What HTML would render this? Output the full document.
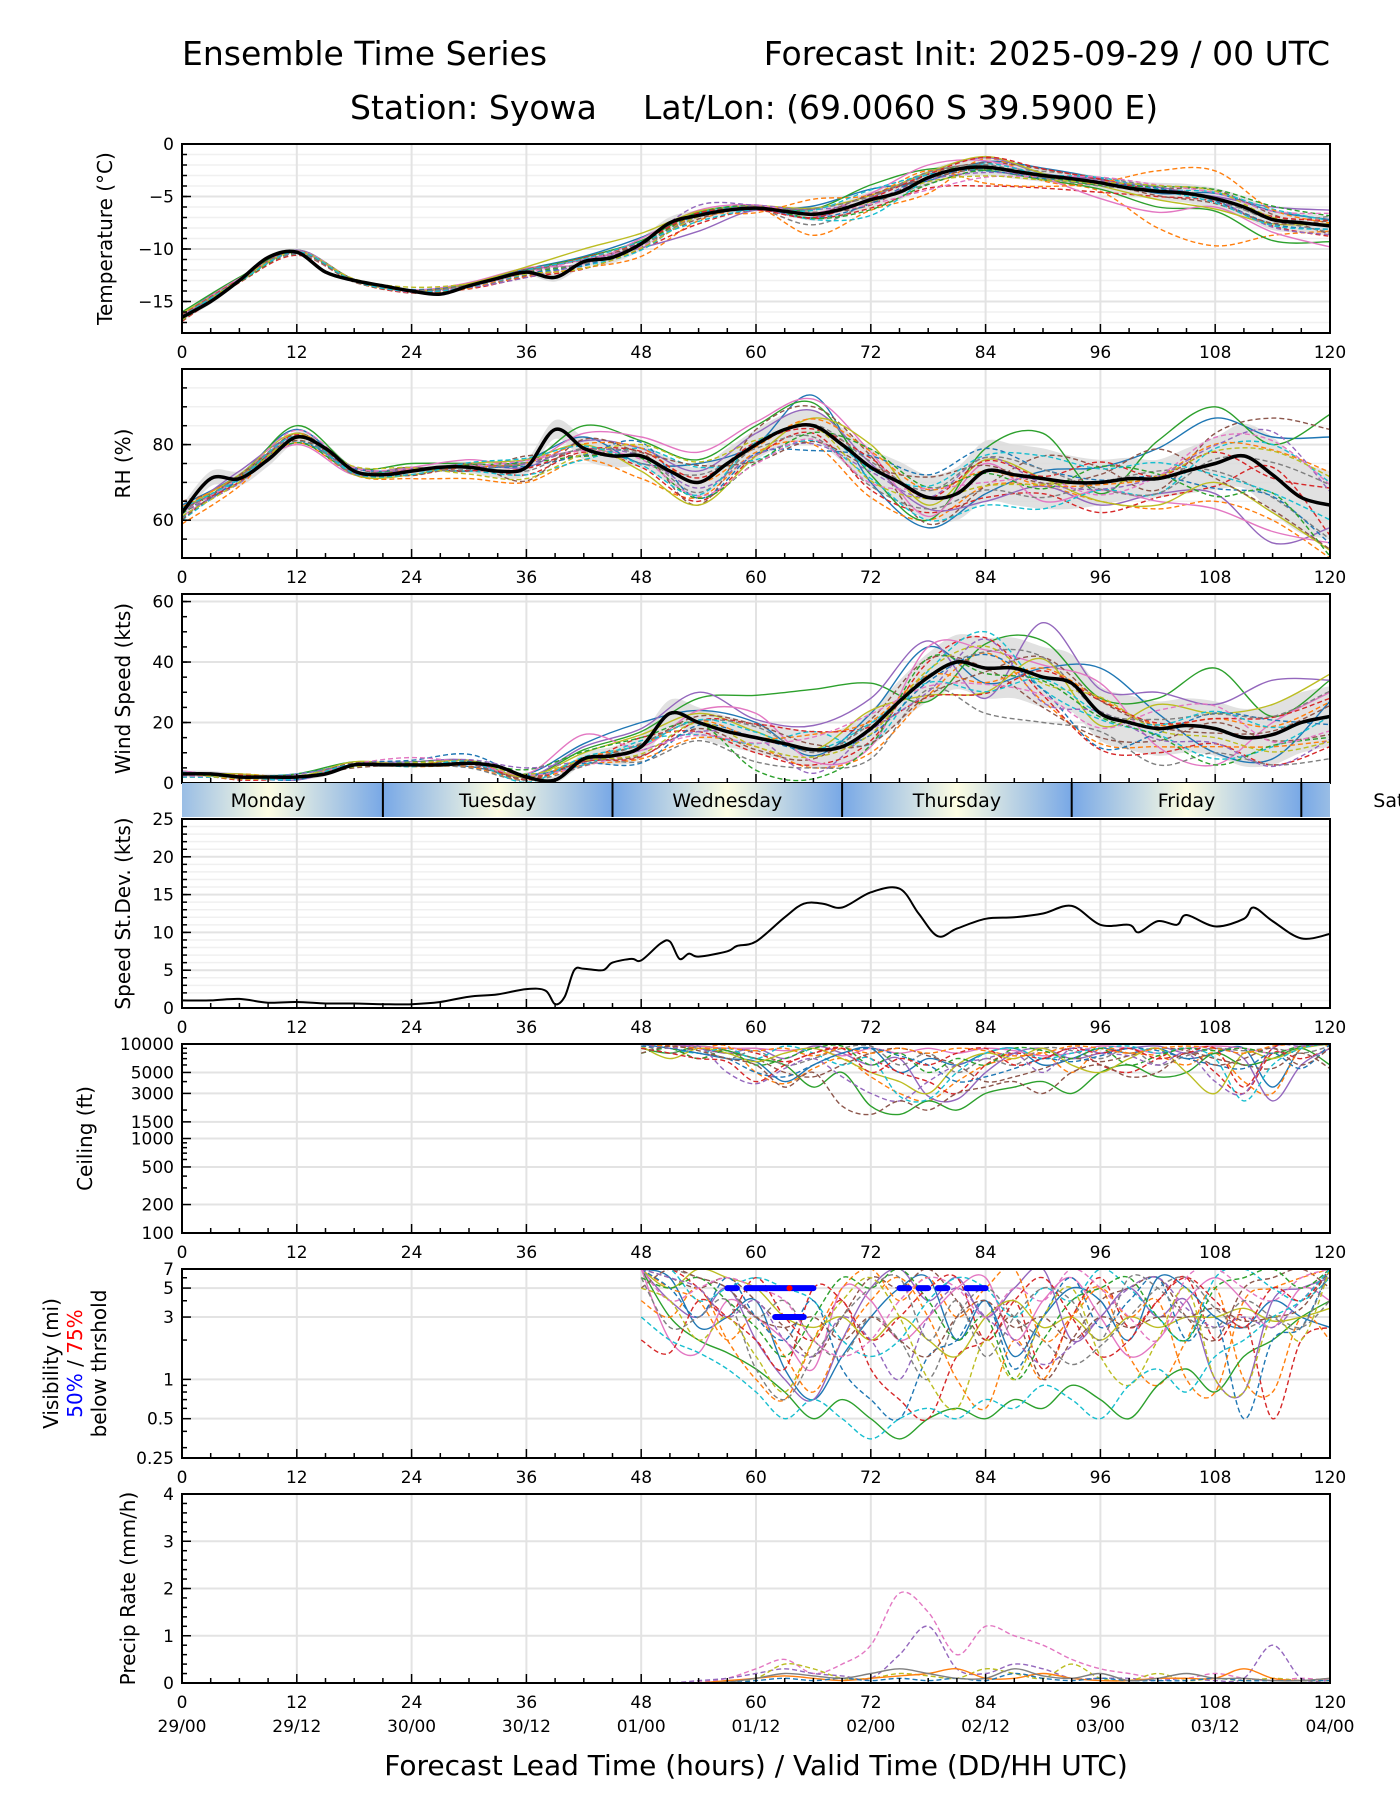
<!DOCTYPE html>
<html><head><meta charset="utf-8"><style>
html,body{margin:0;padding:0;background:#fff;}
svg{display:block;font-family:"DejaVu Sans","Liberation Sans",sans-serif;}
</style></head><body>
<svg id="chart" width="1400" height="1800" viewBox="0 0 1400 1800" xmlns="http://www.w3.org/2000/svg">
<defs>
<linearGradient id="dayGrad" x1="0" x2="1" y1="0" y2="0">
<stop offset="0" stop-color="#78a8e6"/><stop offset="0.5" stop-color="#fdfde2"/><stop offset="1" stop-color="#78a8e6"/>
</linearGradient>
</defs>
<text x="182" y="65" font-size="33">Ensemble Time Series</text>
<text x="1330" y="65" font-size="33" text-anchor="end">Forecast Init: 2025-09-29 / 00 UTC</text>
<text x="350" y="119" font-size="33">Station: Syowa</text>
<text x="643" y="119" font-size="33">Lat/Lon: (69.0060 S 39.5900 E)</text>
<text x="756" y="1775" font-size="28" text-anchor="middle">Forecast Lead Time (hours) / Valid Time (DD/HH UTC)</text>
</svg>
<script>
// ---- data ----
const hours6 = [0,6,12,18,24,30,36,42,48,54,60,66,72,78,84,90,96,102,108,114,120];
const hours3 = [0,3,6,9,12,15,18,21,24,27,30,33,36,39,42,45,48,51,54,57,60,63,66,69,72,75,78,81,84,87,90,93,96,99,102,105,108,111,114,117,120];
const hoursLate = [48,51,54,57,60,63,66,69,72,75,78,81,84,87,90,93,96,99,102,105,108,111,114,117,120];
const tempMean = [-16.5,-15,-13,-10.8,-10.3,-12.2,-13,-13.5,-14,-14.3,-13.5,-12.8,-12.2,-12.7,-11.2,-10.8,-9.5,-7.5,-6.8,-6.3,-6.1,-6.4,-6.7,-6.2,-5.3,-4.6,-3.2,-2.4,-2.2,-2.6,-3.0,-3.3,-3.7,-4.2,-4.5,-4.7,-5.2,-6,-7.2,-7.5,-7.8];
const tempSpread = [0.3,0.2,0.2,0.1,0.1,0.2,0.3,0.5,0.6,0.5,0.2,0.6,0.8,0.7,0.8,0.6,0.6,0.8,1.0,1.0,0.9];
const tempDev = [
[0.3,0.2,0.1,0.1,0,0.2,0.3,0.5,0.6,0.2,-0.2,0.8,1.0,-0.3,0.5,0.7,0.4,-0.2,0.5,0.8,0.6],
[-0.2,0.1,-0.1,0,-0.1,-0.2,-0.4,-0.6,-1.2,-0.5,0,-2.0,-1.0,-1.5,0.8,-0.5,-0.8,-3.5,-4.5,-1.5,-0.5],
[0.5,0.3,0.2,0.1,0.1,0.1,0.2,0.4,0.3,0.3,0.1,0.5,1.4,0.8,-0.3,-0.4,-0.6,-1.5,-1.2,-2.0,-1.5],
[-0.4,-0.2,-0.3,-0.1,-0.1,-0.3,-0.5,-0.7,-0.5,-0.8,-0.2,-0.4,-0.8,-1.0,-1.8,-1.2,-0.9,-0.5,-0.3,-0.6,-1.0],
[0.1,0,0.2,0,0,0.1,0.1,0.2,-0.4,-1.5,-0.2,-0.3,0.2,0.5,0.9,0.2,0.3,0.1,0.2,1.2,1.5],
[0,-0.1,0,0.1,-0.2,0,-0.3,-0.2,0.2,0.3,0.1,0.2,-0.5,0.3,0.4,0.6,0.3,0.3,0.8,0.5,-0.8],
[0.2,0.2,0,0,0.1,0.3,0.4,-0.2,0.5,0.5,0.3,0.1,0.6,1.2,0.6,-0.2,-1.5,-2.0,-0.8,-1.2,-2.0],
[-0.3,0,-0.2,-0.1,0.1,-0.2,-0.2,0.3,-0.3,0,-0.1,-1.0,-0.3,-0.6,-0.2,0.4,0.5,0.4,0.1,0,0.9],
[0.4,-0.1,0.1,0,0,0.2,0.5,1.2,1.0,0.4,0.2,0.6,0.4,0.5,1.0,0.2,-0.3,-0.8,-1.0,-0.4,0.2],
[-0.1,0.1,-0.1,0,-0.1,-0.1,-0.2,-0.4,-0.6,0.2,0.1,-0.5,-1.5,-0.2,0.3,0.1,0.5,0.2,0.6,1.0,0.5]];
const rhMean = [62,71,71,76,82,79,73,72,73,74,74,73,74,84,79,77,77,73,70,75,80,84,85,80,74,70,66,67,73,72,71,70,70,71,71,73,75,77,72,66,64];
const rhSpread = [2,2,1.5,1,1,1.5,2,3,3,4,4,4,5,6,8,8,6,5,7,10,9];
const rhDev = [
[2,1,2,0,1,-1,2,3,-2,5,0,8,-4,-8,-6,2,4,8,12,10,18],
[-3,-2,1,-1,-2,-3,-4,-3,-6,-4,-2,-5,-8,-6,-4,-2,-5,-8,-10,-12,-14],
[1,0,3,1,2,1,1,6,4,6,5,6,-2,-6,6,12,-3,10,15,8,24],
[-2,1,-1,0,-1,0,-2,-1,-3,-5,-3,-2,-6,-4,-7,-4,-8,-5,-6,2,-8],
[0,2,0,1,0,1,0,2,2,3,3,4,1,-3,-8,-2,-6,-4,-8,-18,-6],
[3,-1,1,0,1,-1,3,-2,1,-6,4,5,3,-7,-4,6,4,-3,8,15,20],
[-1,0,-2,-1,1,2,1,4,5,8,6,7,4,-5,2,-6,-2,-6,-12,-15,-10],
[0,-1,0,1,0,0,-1,0,-2,2,-1,-3,-5,-3,-5,-5,0,2,-2,-6,-9],
[1,1,1,-1,-1,1,2,1,-4,-6,-3,2,6,-2,3,0,-5,-7,-5,-10,-12],
[-2,0,-1,0,0,-1,-2,-3,2,4,-4,-4,-3,-6,-9,-8,-2,-4,4,8,6]];
const windMean = [3,3,2,2,2,3,6,6,6,6,6.5,5.5,2,1,8,9,12,23,20,17,15,13,11,12,18,27,35,40,38,38,35,33,23,20,18,19,18,15,16,20,22];
const windSpread = [1,1,1,0.5,0.5,0.5,0.5,2,4,5,5,6,6,8,10,10,9,9,9,10,10];
const windDev = [
[1,0,1,0,0,-1,1,5,8,4,5,-2,5,10,-5,3,15,5,-8,-8,5],
[-1,1,0,0,0,0,-1,-2,-4,-5,-3,-6,-8,-6,5,-8,-10,-6,-6,-4,-8],
[0,0,1,1,0,1,0,3,5,8,14,20,15,-8,8,12,5,10,20,6,12],
[1,-1,0,0,0,0,0,-1,3,-3,-5,-5,-4,5,10,-6,-12,-8,-5,-10,-10],
[0,1,-1,0,1,1,0,4,6,10,6,8,10,12,-10,18,8,12,8,18,12],
[-1,0,0,-1,0,-1,0,-1,-3,-2,-4,-3,3,6,0,-10,-8,-4,2,-2,-6],
[1,0,0,0,0,0,1,8,0,4,8,-4,-6,10,6,4,10,-6,-12,4,8],
[0,0,0,0,0,0,-1,0,-5,-6,-8,-6,-10,-4,-15,-15,-6,-12,-8,-10,-14],
[0,1,0,1,0,1,0,2,4,3,2,0,6,-6,-8,6,-4,8,5,10,14],
[-1,0,1,0,0,0,1,-2,2,-4,-2,6,-5,2,12,-4,-2,-2,-10,-4,0]];
const sdHours = [0,3,6,9,12,15,18,21,24,27,30,33,36,38,39,40,41,42,44,45,47,48,50,51,52,53,54,57,58,60,63,65,67,69,72,75,77,79,81,84,87,90,93,96,99,100,102,104,105,108,111,112,114,117,120];
const sdValues = [1,1,1.2,0.7,0.8,0.6,0.6,0.5,0.5,0.8,1.5,1.8,2.5,2.3,0.5,1.5,5,5.2,5,6,6.5,6.3,8.5,8.8,6.5,7.2,6.8,7.5,8.2,8.8,12,13.8,13.8,13.3,15.3,15.8,12.5,9.5,10.5,11.8,12,12.5,13.5,11,11,10,11.5,11,12.3,10.8,11.8,13.3,11.5,9.2,9.8];
const ceilMembers = [
[10000,9000,8000,7000,6500,4000,6000,8000,9000,5000,7000,6000,8000,9000,6000,7000,9000,8000,9000,7000,8000,9000,3500,9000,10000],
[10000,10000,9000,9500,5000,3800,5500,7000,4500,3000,2500,4000,6000,7000,8000,5000,9000,8000,7500,6000,8000,4000,3000,9000,9500],
[9000,8000,9500,8500,7000,6000,3500,5000,2200,1800,2500,2000,3000,3500,4000,3000,5000,6000,4500,5000,8000,6000,7000,9000,6000],
[10000,9500,7000,9000,8000,6500,8000,9000,7000,5000,4000,3000,6000,8000,7000,9000,6000,5000,7000,9000,5000,3000,8000,7000,9000],
[10000,10000,9000,8000,9000,7000,9500,8000,6000,7000,2800,2600,5000,8000,9000,7000,8000,9000,9500,8000,9000,7000,2500,6000,9000],
[10000,9500,9000,8000,7000,5000,4500,6000,8000,9000,7500,6000,4000,4500,5500,7000,6500,7500,9000,8500,7000,6000,5500,8000,5500],
[10000,10000,9500,9000,9000,8500,9000,7500,9000,8000,9000,8000,9000,8500,7500,8000,9500,9000,8000,9000,9500,9000,8000,9500,10000],
[10000,8000,9000,7000,8500,6000,7000,9000,9500,6000,8000,5000,7000,6000,9000,8500,7000,9000,6000,7500,9000,8500,9000,8000,9500]];
const visMembers = [
[7,6,2.5,3,4,1.2,0.7,1.5,3,5,6,2,4,1.5,3,5,4,2,6,5,3,2.5,4,3,2.5],
[7,5,4,2,3,1.5,0.8,2,4,6,3,1,0.6,2,1,3,5,1.5,0.9,2,5,1,0.8,3,2],
[7,3,2,1.6,1.2,0.8,0.5,0.7,0.5,0.35,0.5,0.6,0.5,0.7,0.6,0.9,0.7,0.5,0.9,1.2,0.8,1.5,2,3,4],
[7,7,5,3,6,3,2,4,1.2,0.7,0.5,1.5,2,4,1.2,3,6,2.5,4,6,2,3,0.5,2,2.5],
[7,4,3,5,2,1,0.7,2,5,7,4,6,3,5,7,2,3,5,3,4,1,0.8,4,5,6],
[7,6,5,6,4,2.5,1.5,3,6,5,7,4,2,3,1,2,4,5,6,3,2,5,6,7,5],
[7,2,1.6,4,3,2,1.2,5,4,2,3,5,6,2,4,6,3,1.5,2,4,6,4,2.5,5,4],
[7,7,6,5,3,4,2,1.5,3,2,1,3,5,3,2,1.3,1.8,3,5,6,3.5,2.5,3,2.5,4],
[7,5,7,6,5,3,2.5,3,2,3,2,1.5,3,4,2.5,3,2,3,2.5,3,3,3.5,2.8,3,3.5],
[7,7,4,5,6,5,4,2,1.5,2,4,6,5,3,5,4,7,5,3,2,6,7,5,4,6]];
const precipMembers = [
[0,0,0.02,0.1,0.3,0.5,0.2,0.4,0.8,1.9,1.5,0.6,1.2,1.0,0.8,0.5,0.3,0.2,0.1,0.1,0.2,0.1,0.05,0.1,0.05],
[0,0,0.05,0.1,0.2,0.3,0.2,0.15,0.1,0.6,1.2,0.3,0.2,0.4,0.3,0.1,0.1,0.1,0.05,0.1,0.05,0.1,0.8,0.1,0.05],
[0,0,0,0.05,0.1,0.4,0.3,0.1,0.1,0.2,0.15,0.1,0.3,0.2,0.1,0.4,0.1,0.05,0.2,0.05,0.1,0.05,0.1,0.05,0.05],
[0,0,0,0.05,0.1,0.15,0.1,0.05,0.1,0.15,0.2,0.3,0.1,0.1,0.2,0.1,0.05,0.05,0.1,0.1,0.1,0.3,0.1,0.05,0.1],
[0,0,0,0,0.05,0.1,0.05,0.1,0.05,0.1,0.05,0.1,0.05,0.2,0.1,0.05,0.1,0.05,0.05,0.05,0.1,0.05,0.05,0.05,0.05],
[0,0,0,0.02,0.1,0.2,0.15,0.1,0.2,0.3,0.2,0.1,0.1,0.3,0.15,0.1,0.2,0.05,0.1,0.2,0.1,0.1,0.05,0.05,0.1]];
const precipColorIdx = [6,4,8,1,0,7];
const visBlue5 = [[57,58],[59,66],[75,76],[77,78],[79,80],[82,84]];
const visBlue3 = [[62,65]];
const visRed5 = [63.5];
const dayNames = ['Monday','Tuesday','Wednesday','Thursday','Friday','Saturday'];
const xTicks = [0,12,24,36,48,60,72,84,96,108,120];
const dateLabels = ['29/00','29/12','30/00','30/12','01/00','01/12','02/00','02/12','03/00','03/12','04/00'];
const colors = ['#1f77b4','#ff7f0e','#2ca02c','#d62728','#9467bd','#8c564b','#e377c2','#7f7f7f','#bcbd22','#17becf'];

// ---- layout ----
const NS='http://www.w3.org/2000/svg';
const svg=document.getElementById('chart');
const X0=182,X1=1330,PH=189;
const xs=h=>X0+h*(X1-X0)/120;
function mk(tag,attrs,parent){const e=document.createElementNS(NS,tag);for(const k in attrs)e.setAttribute(k,attrs[k]);(parent||svg).appendChild(e);return e;}
function smoothPath(pts){
  if(pts.length<2)return '';
  let d='M'+pts[0][0].toFixed(1)+','+pts[0][1].toFixed(1);
  for(let i=0;i<pts.length-1;i++){
    const p0=pts[Math.max(0,i-1)],p1=pts[i],p2=pts[i+1],p3=pts[Math.min(pts.length-1,i+2)];
    const c1=[p1[0]+(p2[0]-p0[0])/6,p1[1]+(p2[1]-p0[1])/6],c2=[p2[0]-(p3[0]-p1[0])/6,p2[1]-(p3[1]-p1[1])/6];
    d+='C'+c1[0].toFixed(1)+','+c1[1].toFixed(1)+' '+c2[0].toFixed(1)+','+c2[1].toFixed(1)+' '+p2[0].toFixed(1)+','+p2[1].toFixed(1);
  }
  return d;
}
function interp(hs,vs,h){for(let i=0;i<hs.length-1;i++){if(h>=hs[i]&&h<=hs[i+1]){const t=(h-hs[i])/(hs[i+1]-hs[i]);return vs[i]+t*(vs[i+1]-vs[i]);}}return vs[vs.length-1];}

function panel(cfg){
  const top=cfg.top,bot=top+PH;
  const g=mk('g',{});
  
  
  let ys;
  if(cfg.log){const a=Math.log(cfg.min),b=Math.log(cfg.max);ys=v=>bot-(Math.log(Math.max(v,cfg.min*0.5))-a)/(b-a)*PH;}
  else ys=v=>bot-(v-cfg.min)/(cfg.max-cfg.min)*PH;
  (cfg.minorGrid||[]).forEach(v=>{const l=mk('line',{x1:X0,x2:X1,y1:ys(v),y2:ys(v),stroke:'#f0f0f0','stroke-width':1.5},g);});
  cfg.yTicks.forEach(v=>{const l=mk('line',{x1:X0,x2:X1,y1:ys(v),y2:ys(v),stroke:'#e3e3e3','stroke-width':2},g);});
  xTicks.forEach(h=>{const l=mk('line',{x1:xs(h),x2:xs(h),y1:top,y2:bot,stroke:'#e3e3e3','stroke-width':2},g);});
  const cid='clip-'+cfg.name;
  const cp=mk('clipPath',{id:cid},g);mk('rect',{x:X0,y:top,width:X1-X0,height:PH},cp);
  const pg=mk('g',{'clip-path':'url(#'+cid+')'},g);
  cfg.draw(pg,ys);
  for(let h=0;h<=120;h+=3){const major=h%12==0;const t=mk('line',{x1:xs(h),x2:xs(h),y1:bot,y2:bot-(major?9:5),stroke:'#000','stroke-width':1.5},g);}
  (cfg.minorTicks||[]).forEach(v=>{const t=mk('line',{x1:X0,x2:X0+5,y1:ys(v),y2:ys(v),stroke:'#000','stroke-width':1.5},g);});
  cfg.yTicks.forEach((v,i)=>{
    const t=mk('line',{x1:X0,x2:X0+9,y1:ys(v),y2:ys(v),stroke:'#000','stroke-width':1.5},g);
    const tx=mk('text',{x:X0-8,y:ys(v)+6,'font-size':17,'text-anchor':'end'},g);tx.textContent=cfg.yLabels[i];
  });
  mk('rect',{x:X0,y:top,width:X1-X0,height:PH,fill:'none',stroke:'#000','stroke-width':2},g);
  if(!cfg.noXLabels)xTicks.forEach(h=>{const tx=mk('text',{x:xs(h),y:bot+25,'font-size':17,'text-anchor':'middle'},g);tx.textContent=h;});
  if(cfg.ylabel){const tx=mk('text',{x:cfg.lx,y:top+PH/2,'font-size':20,'text-anchor':'middle',transform:'rotate(-90 '+cfg.lx+' '+(top+PH/2)+')'},g);tx.textContent=cfg.ylabel;}
  return {ys,top,bot,g};
}
function memberLines(pg,ys,hs,getVals,name,colorIdx){
  for(let k=0;k<20;k++){
    const src=getVals(k);if(!src)continue;
    const ci=colorIdx?colorIdx[k]:k%10;
    const pts=hs.map((h,i)=>[xs(h),ys(src[i])]);
    const p=mk('path',{d:smoothPath(pts),fill:'none',stroke:colors[ci],'stroke-width':1.4,'stroke-dasharray':(colorIdx?(ci%2==0):(k>=10||k%2))?'5,3':'none'},pg);
    
    
  }
}
function ensemble(pg,ys,mean,spread,devs,name,clampMin){
  const m6=hours6.map(h=>interp(hours3,mean,h));
  const up=hours3.map(h=>[xs(h),ys(interp(hours3,mean,h)+interp(hours6,spread,h))]);
  const lo=hours3.map(h=>[xs(h),ys(Math.max(clampMin,interp(hours3,mean,h)-interp(hours6,spread,h)))]).reverse();
  const band=mk('path',{d:smoothPath(up)+'L'+smoothPath(lo).slice(1)+'Z',fill:'#d9d9d9',opacity:0.8},pg);
  
  
  const list=[];devs.forEach(d=>list.push(d.map((v,i)=>Math.max(clampMin,m6[i]+v))));
  devs.forEach(d=>list.push(d.map((v,i)=>Math.max(clampMin,m6[i]-0.6*v+0.3*d[(i+3)%21]))));
  memberLines(pg,ys,hours6,k=>list[k],name);
  const ml=mk('path',{d:smoothPath(hours3.map((h,i)=>[xs(h),ys(mean[i])])),fill:'none',stroke:'#000','stroke-width':3.5},pg);
  
  
}
const range=(a,b,s)=>{const r=[];for(let v=a;v<=b+1e-9;v+=s)r.push(v);return r;};
function lateMembers(src){return k=>{const n=src.length;if(k<n)return src[k];if(k<2*n){const s=src[(k+3)%n];return s.map((v,i)=>s[(i+1)%s.length]);}return null;};}

panel({name:'temperature',top:144,min:-18,max:0,yTicks:[0,-5,-10,-15],yLabels:['0','\u22125','\u221210','\u221215'],minorGrid:range(-18,0,1),minorTicks:range(-18,0,1),ylabel:'Temperature (°C)',lx:112,
  draw:(pg,ys)=>ensemble(pg,ys,tempMean,tempSpread,tempDev,'temperature',-99)});
panel({name:'rh',top:369,min:50,max:100,yTicks:[60,80],yLabels:['60','80'],minorGrid:range(50,100,5),minorTicks:range(50,100,5),ylabel:'RH (%)',lx:130,
  draw:(pg,ys)=>ensemble(pg,ys,rhMean,rhSpread,rhDev,'rh',0)});
panel({name:'wind',top:594,min:0,max:62.5,yTicks:[0,20,40,60],yLabels:['0','20','40','60'],minorTicks:range(0,60,5),ylabel:'Wind Speed (kts)',lx:130,noXLabels:true,
  draw:(pg,ys)=>ensemble(pg,ys,windMean,windSpread,windDev,'wind',0)});
(function(){
  const g=mk('g',{});
  
  
  const cp=mk('clipPath',{id:'clip-day'},g);mk('rect',{x:X0,y:783,width:X1-X0,height:34},cp);
  const cg=mk('g',{'clip-path':'url(#clip-day)'},g);
  dayNames.forEach((d,i)=>{
    const s=-3+24*i;
    const r=mk('rect',{x:xs(s),y:783,width:xs(24)-xs(0),height:34,fill:'url(#dayGrad)'},cg);
    
    
    if(i>0){const l=mk('line',{x1:xs(s),x2:xs(s),y1:783,y2:817,stroke:'#000','stroke-width':2},g);}
    const t=mk('text',{x:xs(s+12),y:807,'font-size':19,'text-anchor':'middle'},g);t.textContent=d;
    
    
  });
})();
panel({name:'speed-stdev',top:819,min:0,max:25,yTicks:[0,5,10,15,20,25],yLabels:['0','5','10','15','20','25'],minorGrid:range(0,25,1),minorTicks:range(0,25,1),ylabel:'Speed St.Dev. (kts)',lx:130,
  draw:(pg,ys)=>{const p=mk('path',{d:smoothPath(sdHours.map((h,i)=>[xs(h),ys(sdValues[i])])),fill:'none',stroke:'#000','stroke-width':2},pg);}});
panel({name:'ceiling',top:1044,min:100,max:10000,log:true,yTicks:[10000,5000,3000,1500,1000,500,200,100],yLabels:['10000','5000','3000','1500','1000','500','200','100'],minorTicks:[300,400,600,700,800,900,2000,4000,6000,7000,8000,9000],ylabel:'Ceiling (ft)',lx:92,
  draw:(pg,ys)=>memberLines(pg,ys,hoursLate,lateMembers(ceilMembers),'ceiling')});
panel({name:'visibility',top:1269,min:0.25,max:7,log:true,yTicks:[7,5,3,1,0.5,0.25],yLabels:['7','5','3','1','0.5','0.25'],minorTicks:[2,4,6,0.3,0.4,0.6,0.7,0.8,0.9],
  draw:(pg,ys)=>{
    memberLines(pg,ys,hoursLate,lateMembers(visMembers),'visibility');
    visBlue5.forEach(s=>{const l=mk('line',{x1:xs(s[0]),x2:xs(s[1]),y1:ys(5),y2:ys(5),stroke:'#0000ff','stroke-width':6,'stroke-linecap':'round'},pg);});
    visBlue3.forEach(s=>{const l=mk('line',{x1:xs(s[0]),x2:xs(s[1]),y1:ys(3),y2:ys(3),stroke:'#0000ff','stroke-width':6,'stroke-linecap':'round'},pg);});
    visRed5.forEach(h=>{const c=mk('circle',{cx:xs(h),cy:ys(5),r:3,fill:'#ff0000'},pg);});
  }});
(function(){
  const cy=1269+PH/2;
  const lines=[[58,[['Visibility (mi)','#000']]],[82,[['50%','#0000ff'],[' / ','#000'],['75%','#ff0000']]],[106,[['below thrshold','#000']]]];
  lines.forEach(([x,parts])=>{
    const t=mk('text',{x:x,y:cy,'font-size':20,'text-anchor':'middle',transform:'rotate(-90 '+x+' '+cy+')'});
    
    
    t.setAttribute('xml:space','preserve');
    parts.forEach(([s,c])=>{const sp=mk('tspan',{fill:c},t);sp.textContent=s;});
  });
})();
panel({name:'precip',top:1494,min:0,max:4,yTicks:[0,1,2,3,4],yLabels:['0','1','2','3','4'],minorTicks:range(0,4,0.2),ylabel:'Precip Rate (mm/h)',lx:135,
  draw:(pg,ys)=>memberLines(pg,ys,hoursLate,k=>precipMembers[k]||null,'precip',precipColorIdx)});
xTicks.forEach((h,i)=>{const t=mk('text',{x:xs(h),y:1732,'font-size':17,'text-anchor':'middle'});t.textContent=dateLabels[i];});
</script>
</body></html>
